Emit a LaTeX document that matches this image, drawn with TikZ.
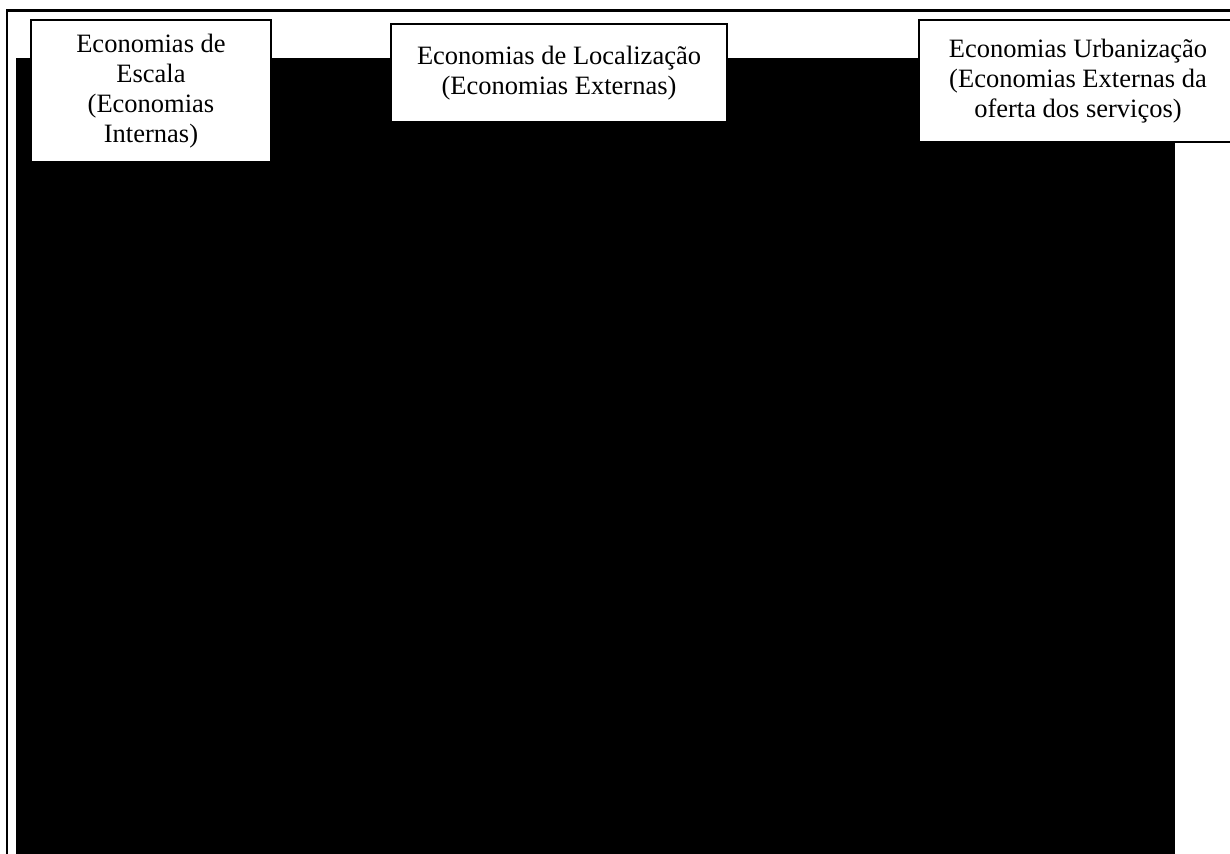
\documentclass[tikz,border=0pt]{standalone}
\usepackage{fontspec}
\setmainfont{Liberation Serif}
\usepackage{tikz}
\usetikzlibrary{positioning}
\tikzset{>=latex}
\tikzset{caixa/.style={draw=black,fill=white,line width=0.6pt,align=center,
    inner sep=0pt,font=\fontsize{13.25}{15}\selectfont}}

\begin{document}
\begin{tikzpicture}[x=0.5pt,y=-0.5pt]
    \useasboundingbox (0,0) rectangle (1230,854);
    % moldura
    \draw[line width=1.1pt] (7,854) -- (7,10.5) -- (1230,10.5);
    \fill[black] (16,58) rectangle (1175,854);
    % caixas
    \node[caixa,minimum width=120pt,minimum height=71pt] (escala) at (151,91)
    {Economias de\\Escala\\(Economias\\Internas)};
    \node[caixa,minimum width=168pt,minimum height=49pt] (localizacao) at (559,73)
    {Economias de Localização\\(Economias Externas)};
    \node[caixa,minimum width=159pt,minimum height=61pt] (urbanizacao) at (1078,81)
    {Economias Urbanização\\(Economias Externas da\\oferta dos serviços)};
\end{tikzpicture}
\end{document}
